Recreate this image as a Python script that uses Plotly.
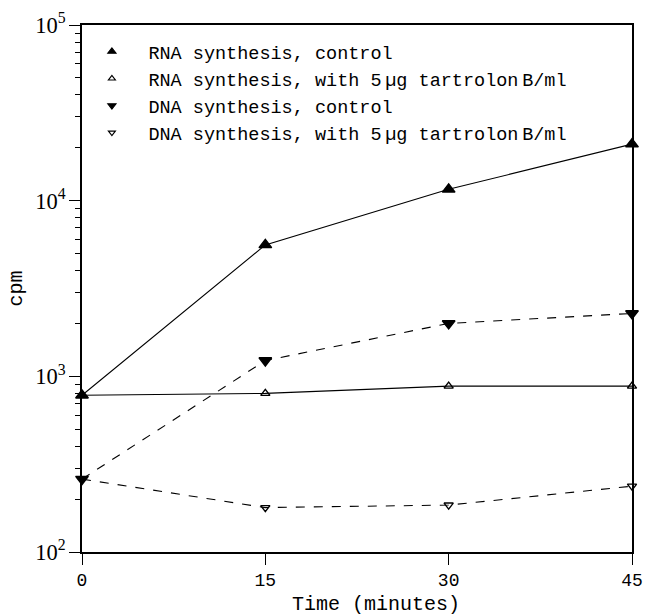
import plotly.graph_objects as go

# Incorporation (cpm) over time
time_min = [0, 15, 30, 45]
rna_control = [780, 5600, 11600, 21000]
rna_tartrolon = [780, 800, 880, 880]
dna_control = [260, 1230, 2000, 2280]
dna_tartrolon = [260, 179, 185, 237]

labels = [
    "RNA synthesis, control",
    "RNA synthesis, with 5\u2009\u00b5g tartrolon\u2009B/ml",
    "DNA synthesis, control",
    "DNA synthesis, with 5\u2009\u00b5g tartrolon\u2009B/ml",
]

# minor log ticks 2..9 in each decade
y_minor = [m * 10 ** e for e in (2, 3, 4) for m in range(2, 10)]

MONO = "Liberation Mono"
SERIF = "Liberation Serif"

# (values, dash, symbol, size, y axis) - y2 shares the range of y and carries the minor ticks
series = [
    (rna_control, "solid", "triangle-up", 11, "y"),
    (rna_tartrolon, "solid", "triangle-up-open", 8, "y"),
    (dna_control, "dash", "triangle-down", 11, "y"),
    (dna_tartrolon, "dash", "triangle-down-open", 8, "y2"),
]

fig = go.Figure()

for vals, dash, sym, size, yax in series:
    fig.add_trace(go.Scatter(
        x=time_min, y=vals, mode="lines+markers", yaxis=yax,
        line=dict(color="black", width=1.1, dash=dash),
        marker=dict(symbol=sym, size=size, color="black",
                    line=dict(color="black", width=1.4)),
        cliponaxis=False, showlegend=False,
    ))

# marker-only legend entries
legend_syms = [("triangle-up", 7), ("triangle-up-open", 6),
               ("triangle-down", 7), ("triangle-down-open", 6)]
for (sym, size), name in zip(legend_syms, labels):
    fig.add_trace(go.Scatter(
        x=[None], y=[None], mode="markers", name=name,
        marker=dict(symbol=sym, size=size, color="black",
                    line=dict(color="black", width=1.2)),
        legendgroup=name,
    ))

fig.update_layout(
    width=645, height=615,
    margin=dict(l=82, r=13, t=25, b=63, autoexpand=False),
    paper_bgcolor="white", plot_bgcolor="white",
    showlegend=True,
    legend=dict(
        x=-0.012, y=0.985, xanchor="left", yanchor="top",
        bgcolor="rgba(0,0,0,0)", borderwidth=0,
        font=dict(family=MONO, size=18.5, color="black"),
        traceorder="grouped", tracegroupgap=0,
        itemsizing="trace", itemwidth=63,
    ),
    xaxis=dict(
        range=[0, 45], tickmode="array", tickvals=time_min,
        ticktext=[str(t) for t in time_min],
        ticks="outside", ticklen=11, tickwidth=1.2, tickcolor="black",
        showline=True, linecolor="black", linewidth=1.5, mirror=True,
        showgrid=False, zeroline=False, automargin=False,
        tickfont=dict(family=MONO, size=18, color="black"),
        ticklabelstandoff=0,
    ),
    yaxis=dict(
        type="log", range=[2, 5], dtick=1, exponentformat="power",
        ticks="outside", ticklen=11, tickwidth=1.3, tickcolor="black",
        showline=True, linecolor="black", linewidth=1.5, mirror=True,
        showgrid=False, zeroline=False, automargin=False,
        tickfont=dict(family=SERIF, size=18, color="black"),
    ),
    yaxis2=dict(
        type="log", range=[2, 5], overlaying="y", side="left",
        tickmode="array", tickvals=y_minor, showticklabels=False,
        ticks="outside", ticklen=6, tickwidth=1.1, tickcolor="black",
        showline=False, showgrid=False, zeroline=False, automargin=False,
    ),
    annotations=[
        dict(text="Time (minutes)", xref="paper", yref="paper",
             x=0.535, y=-0.1, xanchor="center", yanchor="middle",
             showarrow=False, font=dict(family=MONO, size=20, color="black")),
        dict(text="cpm", xref="paper", yref="paper",
             x=-0.12, y=0.5, xanchor="center", yanchor="middle",
             textangle=-90, showarrow=False,
             font=dict(family=MONO, size=20, color="black")),
    ],
)

fig.write_html("out.html")
